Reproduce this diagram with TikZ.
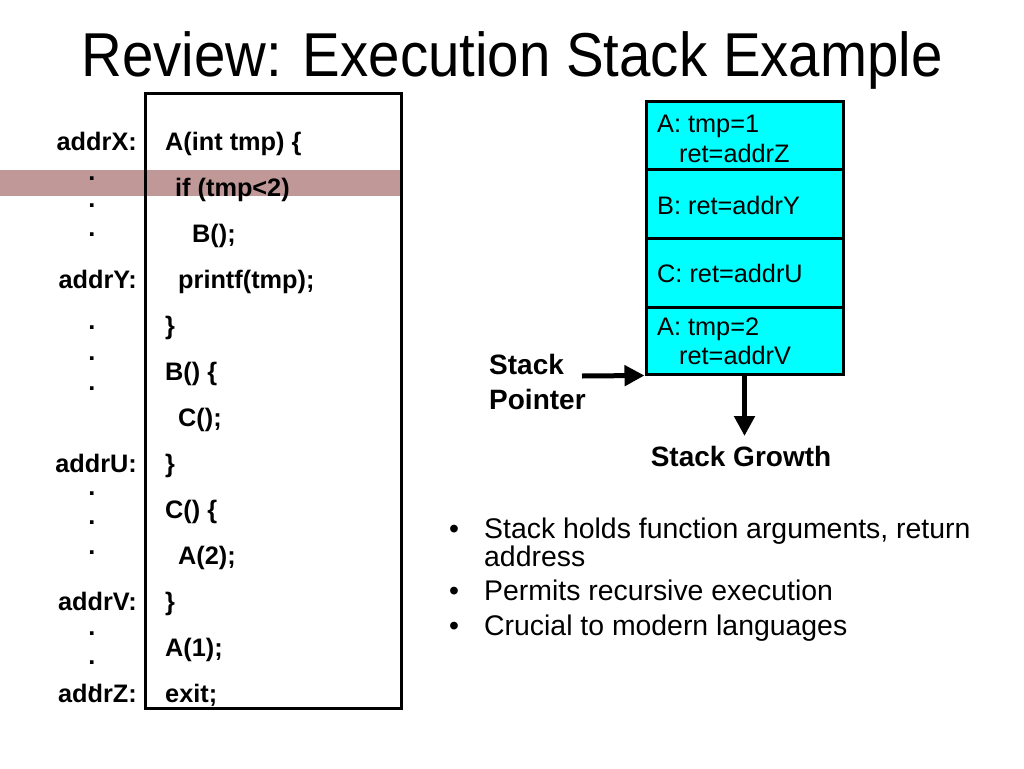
\documentclass[tikz,border=0pt]{standalone}
\usepackage{fontspec}
\setmainfont{Liberation Sans}
\newfontfamily\titlefont[FakeStretch=0.91]{Liberation Sans}
\usepackage{xcolor}
\usetikzlibrary{arrows.meta}
\definecolor{bandred}{RGB}{192,152,152}
\definecolor{framecyan}{RGB}{0,255,255}

\begin{document}
\begin{tikzpicture}[
            x = 1pt, y = -1pt, % one unit = one pixel
            > = {Triangle[length=20pt,width=20pt]}, % arrow head style
            every node/.style = {inner sep=0pt},
            codeline/.style = {anchor=base west, font=\fontsize{25.3}{30}\selectfont\bfseries},
            addrlabel/.style = {anchor=base east, font=\fontsize{25.3}{30}\selectfont\bfseries},
            addrdot/.style = {anchor=base, font=\fontsize{25.3}{30}\selectfont\bfseries},
            stackframe/.style = {draw=black, line width=3pt, fill=framecyan, minimum width=197pt},
            frametext/.style = {anchor=base west, font=\fontsize{25.3}{30}\selectfont},
            boldlabel/.style = {anchor=base west, font=\fontsize{28}{34}\selectfont\bfseries},
            bullettext/.style = {anchor=base west, font=\fontsize{28.4}{34}\selectfont},
            fat arrow/.style = {->, line width=5pt} % line style
        ]
\useasboundingbox (0,0) rectangle (1024,768);

\node[anchor=base, font=\titlefont\fontsize{62}{70}\selectfont] (title) at (512,77) {Review: Execution Stack Example};

% current line
\fill[bandred] (0,170) rectangle (401,196);
\node[draw=black, line width=3pt, minimum width=256pt, minimum height=615pt] (codebox) at (273,400.5) {};

\foreach \xx/\i/\txt in {165/0/{A(int tmp) \{}, 175/1/{if (tmp<2)}, 192/2/{B();},
    178/3/{printf(tmp);}, 165/4/{\}}, 165/5/{B() \{}, 178/6/{C();}, 165/7/{\}},
    165/8/{C() \{}, 178/9/{A(2);}, 165/10/{\}}, 165/11/{A(1);}, 165/12/{exit;}}
    \node[codeline] (line\i) at ({\xx},{150+46*\i}) {\txt};

\foreach \nm/\i in {X/0, Y/3, U/7, V/10, Z/12}
    \node[addrlabel] (addr\nm) at (137,{150+46*\i}) {addr\nm:};

\foreach \yy [count=\k] in {178,205,234,327,358,388,493,522,552,633,662,688}
    \node[addrdot] (dot\k) at (92,{\yy+2}) {.};

% stack frames
\node[stackframe, minimum height=68pt] (frameA1) at (744.5,135) {};
\node[stackframe, minimum height=69pt] (frameB) at (744.5,203.5) {};
\node[stackframe, minimum height=69pt] (frameC) at (744.5,272.5) {};
\node[stackframe, minimum height=67pt] (frameA2) at (744.5,340.5) {};

\node[frametext] (tmpA1) at (657,132) {A: tmp=1};
\node[frametext] (retA1) at (679,162) {ret=addrZ};
\node[frametext] (retB) at (657,214) {B: ret=addrY};
\node[frametext] (retC) at (657,282) {C: ret=addrU};
\node[frametext] (tmpA2) at (657,335) {A: tmp=2};
\node[frametext] (retA2) at (679,364) {ret=addrV};

\node[boldlabel] (spStack) at (489,374) {Stack};
\node[boldlabel] (spPointer) at (489,409) {Pointer};
\coordinate (spTail) at (582,376);
\draw[fat arrow] (spTail) -- (frameA2.south west);

\node[boldlabel, anchor=base] (growth) at (741,466) {Stack Growth};
\coordinate (growTip) at (744.5,436);
\draw[fat arrow] (frameA2.south) -- (growTip);

% bullets
\foreach \yy/\txt in {538/{Stack holds function arguments, return}, 600/{Permits recursive execution},
    635/{Crucial to modern languages}} {
    \node[bullettext] at (449,\yy) {•};
    \node[bullettext] at (484,\yy) {\txt};
}
\node[bullettext] (addrWord) at (484,566) {address};

\end{tikzpicture}
\end{document}
